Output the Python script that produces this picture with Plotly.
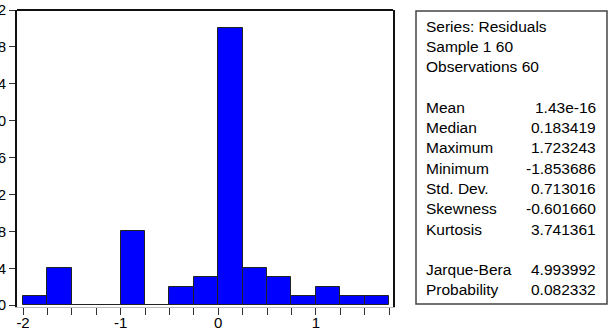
import plotly.graph_objects as go

# Histogram of residuals (bin edges every 0.25 starting at -2)
bin_start = -2.0
bin_width = 0.25
counts = [1, 4, 0, 0, 8, 0, 2, 3, 30, 4, 3, 1, 2, 1, 1]

x_ticks = [-2, -1, 0, 1]
y_ticks = [0, 4, 8, 12, 16, 20, 24, 28, 32]

stat_header = ["Series: Residuals", "Sample 1 60", "Observations 60"]
stat_labels = ["Mean", "Median", "Maximum", "Minimum", "Std. Dev.",
               "Skewness", "Kurtosis"]
stat_values = ["1.43e-16", "0.183419", "1.723243", "-1.853686", "0.713016",
               "-0.601660", "3.741361"]
test_labels = ["Jarque-Bera", "Probability"]
test_values = ["4.993992", "0.082332"]

centers = [bin_start + bin_width * (i + 0.5) for i in range(len(counts))]

W, H = 609, 334
ML, MR, MT, MB = 17, 216, 10, 27
PW, PH = W - ML - MR, H - MT - MB


def px(x):
    return (x - ML) / PW


def py(y):
    return (H - MB - y) / PH


FONT = "Liberation Sans, Arial, sans-serif"

fig = go.Figure()
fig.add_trace(go.Bar(
    x=centers, y=counts, width=[bin_width] * len(counts),
    marker=dict(color="#0000FF", line=dict(color="#222222", width=1)),
    showlegend=False, hoverinfo="x+y",
))

annotations = []
row_y0, row_dy = 26.3, 20.27
def row(k):
    return py(row_y0 + row_dy * k)

for k, t in enumerate(stat_header):
    annotations.append(dict(x=px(424), y=row(k), text=t, xanchor="left",
                            yanchor="middle"))
for j, (lab, val) in enumerate(zip(stat_labels, stat_values)):
    k = 4 + j
    annotations.append(dict(x=px(424), y=row(k), text=lab, xanchor="left", yanchor="middle"))
    annotations.append(dict(x=px(598), y=row(k), text=val, xanchor="right", yanchor="middle"))
for j, (lab, val) in enumerate(zip(test_labels, test_values)):
    k = 12 + j
    annotations.append(dict(x=px(424), y=row(k), text=lab, xanchor="left", yanchor="middle"))
    annotations.append(dict(x=px(598), y=row(k), text=val, xanchor="right", yanchor="middle"))
for a in annotations:
    a.update(xref="paper", yref="paper", showarrow=False,
             font=dict(family=FONT, size=15.5, color="black"))

shapes = [
    dict(type="line", xref="paper", yref="paper", x0=0, x1=1, y0=1, y1=1,
         line=dict(color="#111111", width=2)),
    dict(type="rect", xref="paper", yref="paper", x0=px(416), x1=px(607),
         y0=py(304), y1=py(11), line=dict(color="#444444", width=1.5)),
]

fig.update_layout(
    width=W, height=H,
    margin=dict(l=ML, r=MR, t=MT, b=MB, pad=0),
    paper_bgcolor="white", plot_bgcolor="white",
    bargap=0,
    font=dict(family=FONT, size=15, color="black"),
    annotations=annotations, shapes=shapes,
    xaxis=dict(
        range=[-2.062, 1.79], tickmode="array", tickvals=x_ticks,
        ticktext=[str(v) for v in x_ticks],
        ticks="outside", ticklen=7, tickcolor="#333333", tickwidth=1,
        minor=dict(tickmode="linear", tick0=bin_start, dtick=bin_width,
                   ticks="outside", ticklen=7, tickcolor="#333333", showgrid=False),
        showgrid=False, zeroline=False,
        showline=True, linecolor="#bbbbbb", linewidth=1,
        tickfont=dict(family=FONT, size=15, color="black"),
        ticklabelstandoff=-5,
        automargin=False, fixedrange=True,
    ),
    yaxis=dict(
        range=[-0.2, 32], tickmode="array", tickvals=y_ticks,
        ticktext=[str(v) for v in y_ticks],
        ticks="outside", ticklen=6, tickcolor="#333333", tickwidth=1,
        showgrid=False, zeroline=False,
        showline=True, linecolor="#111111", linewidth=2, mirror=True,
        tickfont=dict(family=FONT, size=15, color="black"),
        automargin=False, fixedrange=True,
    ),
)

fig.write_html("out.html")
